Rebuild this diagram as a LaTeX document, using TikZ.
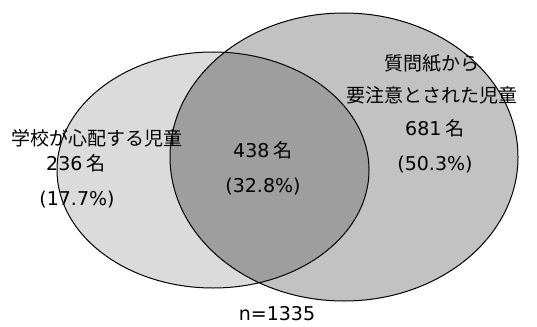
\documentclass[tikz,border=0pt]{standalone}
\usepackage{fontspec}
\newfontfamily\jpfont{Noto Sans CJK JP}
\newfontfamily\numfont{DejaVu Sans}
\newcommand{\nm}[1]{{\numfont #1}}
\begin{document}
\begin{tikzpicture}[x=1pt,y=-1pt,
  lbl/.style={font=\jpfont\fontsize{19}{21}\selectfont, inner sep=0pt, anchor=center},
  outline/.style={draw=black, line width=1pt}]
\useasboundingbox (0,0) rectangle (537,326);
\definecolor{leftgray}{gray}{0.86}
\definecolor{rightgray}{gray}{0.76}
\definecolor{midgray}{gray}{0.62}
% fills
\fill[leftgray] (213,170) ellipse [x radius=156, y radius=118];
\fill[rightgray] (344,157) ellipse [x radius=174, y radius=144];
\begin{scope}
  \clip (213,170) ellipse [x radius=156, y radius=118];
  \fill[midgray] (344,157) ellipse [x radius=174, y radius=144];
\end{scope}
% outlines
\draw[outline] (213,170) ellipse [x radius=156, y radius=118];
\draw[outline] (344,157) ellipse [x radius=174, y radius=144];
% labels
\node[lbl] (la) at (97,138) {学校が心配する児童};
\node[lbl] (lb) at (76,163) {\nm{236} 名};
\node[lbl] (lc) at (77,200) {\nm{(17.7\%)}};
\node[lbl] (ca) at (263,150) {\nm{438} 名};
\node[lbl] (cb) at (263,187) {\nm{(32.8\%)}};
\node[lbl] (ra) at (432,63) {質問紙から};
\node[lbl] (rb) at (432,95) {要注意とされた児童};
\node[lbl] (rc) at (435,128) {\nm{681} 名};
\node[lbl] (rd) at (435,165) {\nm{(50.3\%)}};
\node[lbl] (n) at (277,314) {\nm{n=1335}};
\end{tikzpicture}
\end{document}
